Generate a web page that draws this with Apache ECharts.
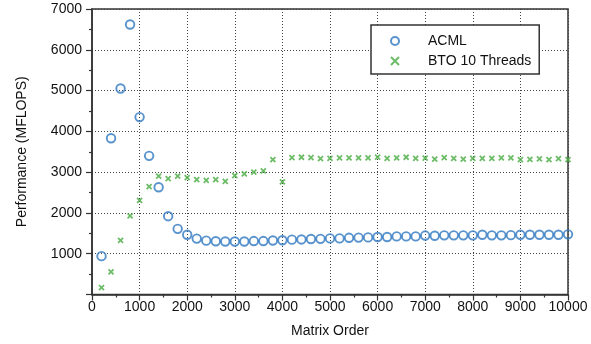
<!DOCTYPE html>
<html>
<head>
<meta charset="utf-8">
<script src="https://cdn.jsdelivr.net/npm/echarts@6/dist/echarts.min.js"></script>
<style>
  html, body { margin: 0; padding: 0; background: #fff; }
  #chart { width: 591px; height: 344px; }
</style>
</head>
<body>
<div id="chart"></div>
<script>
// Matrix orders at which each library was benchmarked
const matrixOrder = [
  200, 400, 600, 800, 1000, 1200, 1400, 1600, 1800, 2000,
  2200, 2400, 2600, 2800, 3000, 3200, 3400, 3600, 3800, 4000,
  4200, 4400, 4600, 4800, 5000, 5200, 5400, 5600, 5800, 6000,
  6200, 6400, 6600, 6800, 7000, 7200, 7400, 7600, 7800, 8000,
  8200, 8400, 8600, 8800, 9000, 9200, 9400, 9600, 9800, 10000
];

// Measured performance in MFLOPS
const acml = [
  940, 3830, 5050, 6620, 4350, 3400, 2630, 1920, 1610, 1465,
  1370, 1320, 1305, 1300, 1300, 1300, 1310, 1310, 1325, 1330,
  1345, 1350, 1360, 1365, 1375, 1375, 1390, 1395, 1400, 1410,
  1410, 1425, 1425, 1425, 1445, 1440, 1450, 1450, 1450, 1450,
  1465, 1450, 1450, 1455, 1465, 1465, 1465, 1465, 1465, 1475
];
const bto10 = [
  170, 555, 1325, 1930, 2310, 2645, 2900, 2840, 2900, 2865,
  2815, 2800, 2815, 2775, 2915, 2955, 3000, 3030, 3305, 2760,
  3355, 3365, 3355, 3330, 3335, 3350, 3350, 3350, 3350, 3370,
  3340, 3350, 3365, 3340, 3345, 3320, 3355, 3340, 3320, 3335,
  3335, 3340, 3350, 3350, 3305, 3315, 3325, 3305, 3330, 3305
];

const seriesNames = ['ACML', 'BTO 10 Threads'];

const FONT = "'Liberation Sans', Arial, Helvetica, sans-serif";
const BLUE = '#2f78c0';
const GREEN = '#49ab42';
const CROSS = 'path://M0,0L10,10M0,10L10,0';

const pairs = (ys) => matrixOrder.map((x, i) => [x, ys[i]]);

const axisCommon = {
  axisLine: { show: true, lineStyle: { color: '#333', width: 1.5 } },
  axisTick: { show: true, inside: false, length: 6, lineStyle: { color: '#333', width: 1.2 } },
  minorTick: { show: true, splitNumber: 2, length: 3, lineStyle: { color: '#333', width: 1.2 } },
  splitLine: { show: true, lineStyle: { color: '#444', width: 1, type: [1, 2] } },
  axisLabel: { color: '#111', fontSize: 14, fontFamily: FONT },
  nameTextStyle: { color: '#111', fontSize: 14, fontFamily: FONT }
};

const chart = echarts.init(document.getElementById('chart'), null, { renderer: 'canvas' });
chart.setOption({
  animation: false,
  backgroundColor: '#fff',
  grid: {
    left: 92, right: 23, top: 9, bottom: 49.5,
    show: true, borderColor: '#333', borderWidth: 1.5, backgroundColor: 'transparent'
  },
  legend: {
    data: seriesNames,
    orient: 'vertical',
    left: 371, top: 25,
    width: 171,
    padding: [9, 8, 6, 19],
    itemWidth: 14, itemHeight: 8, itemGap: 6,
    borderColor: '#333', borderWidth: 1.5,
    backgroundColor: '#fff',
    textStyle: { color: '#111', fontSize: 14, fontFamily: FONT, lineHeight: 14, padding: [0, 0, 0, 21] }
  },
  xAxis: Object.assign({}, axisCommon, {
    type: 'value',
    min: 0, max: 10000, interval: 1000,
    name: 'Matrix Order', nameLocation: 'middle', nameGap: 30,
    axisLabel: Object.assign({}, axisCommon.axisLabel, {
      margin: 6,
      formatter: (v) => String(v)
    })
  }),
  yAxis: Object.assign({}, axisCommon, {
    type: 'value',
    min: 0, max: 7000, interval: 1000,
    name: 'Performance (MFLOPS)', nameLocation: 'middle', nameGap: 63,
    axisLabel: Object.assign({}, axisCommon.axisLabel, {
      margin: 10,
      formatter: (v) => (v === 0 ? '' : String(v))
    })
  }),
  series: [
    {
      name: seriesNames[0],
      type: 'scatter',
      data: pairs(acml),
      symbol: 'circle',
      symbolSize: 8.5,
      itemStyle: { color: 'transparent', borderColor: BLUE, borderWidth: 1.9 },
      emphasis: { disabled: true }
    },
    {
      name: seriesNames[1],
      type: 'scatter',
      data: pairs(bto10),
      symbol: CROSS,
      symbolSize: 5,
      itemStyle: { color: 'transparent', borderColor: GREEN, borderWidth: 1.8 },
      emphasis: { disabled: true }
    }
  ]
});
</script>
</body>
</html>
